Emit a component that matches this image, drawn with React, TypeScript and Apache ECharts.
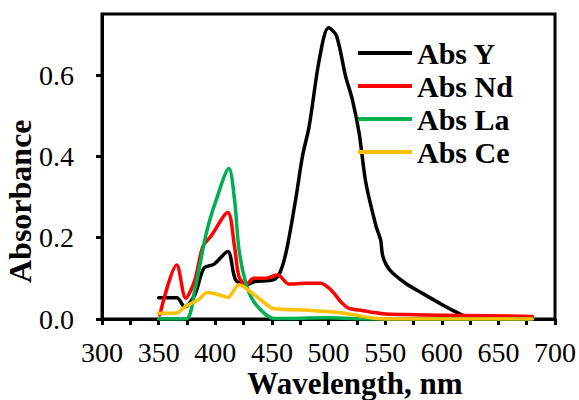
import React, { useEffect, useRef } from "react";
import * as echarts from "echarts";

const seriesNames = ["Abs Y", "Abs Nd", "Abs La", "Abs Ce"];
const seriesColors = ["#000000", "#FF0000", "#00B050", "#FFC000"];

const wlY = [350, 366, 373, 382, 390, 399, 411, 418, 427, 435, 451, 457, 463, 471, 477, 483, 492, 500, 507, 515, 521, 527, 533, 542, 546, 548, 554, 568, 583, 598, 612, 622, 650, 680];
const absY = [0.052, 0.052, 0.03, 0.06, 0.125, 0.135, 0.166, 0.096, 0.084, 0.092, 0.096, 0.113, 0.17, 0.294, 0.4, 0.475, 0.64, 0.716, 0.697, 0.598, 0.54, 0.458, 0.335, 0.228, 0.195, 0.154, 0.121, 0.088, 0.063, 0.039, 0.018, 0.006, 0.005, 0.005];

const wlNd = [351, 366, 374, 382, 389, 396, 411, 417, 421, 427, 434, 445, 455, 465, 480, 493, 502, 512, 518, 527, 548, 568, 600, 640, 680];
const absNd = [0.01, 0.133, 0.051, 0.096, 0.178, 0.203, 0.262, 0.178, 0.104, 0.084, 0.1, 0.1, 0.109, 0.086, 0.088, 0.088, 0.072, 0.039, 0.026, 0.022, 0.013, 0.011, 0.009, 0.008, 0.006];

const wlLa = [350, 374, 382, 392, 401, 412, 417, 421, 427, 434, 445, 452, 500, 540, 680];
const absLa = [0, 0, 0.072, 0.21, 0.294, 0.37, 0.294, 0.17, 0.088, 0.043, 0.01, 0.001, 0.003, 0, 0];

const wlCe = [350, 366, 374, 385, 393, 404, 411, 421, 433, 442, 451, 480, 509, 527, 540, 551, 680];
const absCe = [0.014, 0.015, 0.032, 0.047, 0.065, 0.059, 0.053, 0.084, 0.063, 0.043, 0.026, 0.022, 0.016, 0.008, 0.002, 0, 0];

const xTickLabels = [300, 350, 400, 450, 500, 550, 600, 650, 700];
const yTickLabels = [0, 0.2, 0.4, 0.6];

const FONT = "'Liberation Serif', 'Times New Roman', serif";

export default function App() {
  const ref = useRef<HTMLDivElement>(null);
  useEffect(() => {
    document.body.style.margin = "0";
    if (!ref.current) return;
    const chart = echarts.init(ref.current, undefined, { renderer: "svg" });
    const xs = [wlY, wlNd, wlLa, wlCe];
    const ys = [absY, absNd, absLa, absCe];
    chart.setOption({
      animation: false,
      grid: {
        left: 102,
        right: 23,
        top: 14,
        bottom: 81,
        show: true,
        borderColor: "#000",
        borderWidth: 3,
      },
      legend: {
        orient: "vertical",
        left: 358,
        top: 38,
        padding: 0,
        itemWidth: 54,
        itemHeight: 4,
        itemGap: 3,
        icon: "rect",
        data: seriesNames,
        textStyle: {
          fontFamily: FONT,
          fontWeight: "bold",
          fontSize: 30,
          color: "#000",
          lineHeight: 30,
        },
      },
      xAxis: {
        type: "value",
        min: 300,
        max: 700,
        interval: 25,
        axisLine: { show: true, lineStyle: { color: "#000", width: 3 } },
        axisTick: { show: true, inside: false, length: 6, lineStyle: { color: "#000", width: 3 } },
        splitLine: { show: false },
        axisLabel: {
          customValues: xTickLabels,
          margin: 19,
          fontFamily: FONT,
          fontSize: 28,
          lineHeight: 28,
          color: "#000",
        },
      },
      yAxis: {
        type: "value",
        min: 0,
        max: 0.75,
        interval: 0.2,
        axisLine: { show: true, lineStyle: { color: "#000", width: 3 } },
        axisTick: { show: true, customValues: yTickLabels, length: 6, lineStyle: { color: "#000", width: 3 } },
        splitLine: { show: false },
        axisLabel: {
          customValues: yTickLabels,
          margin: 28,
          fontFamily: FONT,
          fontSize: 28,
          color: "#000",
          formatter: (v: number) => v.toFixed(1),
        },
      },
      graphic: [
        {
          type: "text",
          x: 355,
          y: 368,
          style: {
            text: "Wavelength, nm",
            fontFamily: FONT,
            fontWeight: "bold",
            fontSize: 31,
            lineHeight: 31,
            fill: "#000",
            align: "center",
            verticalAlign: "top",
          },
        },
        {
          type: "text",
          x: 4,
          y: 283,
          rotation: Math.PI / 2,
          style: {
            text: "Absorbance",
            fontFamily: FONT,
            fontWeight: "bold",
            fontSize: 32,
            fill: "#000",
          },
        },
      ],
      series: seriesNames.map((name, i) => ({
        name,
        type: "line",
        data: xs[i].map((x, j) => [x, ys[i][j]]),
        symbol: "none",
        smooth: 0.3,
        color: seriesColors[i],
        lineStyle: { width: 3.5, color: seriesColors[i], cap: "round", join: "round" },
        z: 2 + i,
      })),
    });
    return () => chart.dispose();
  }, []);
  return <div ref={ref} style={{ width: 579, height: 400 }} />;
}
